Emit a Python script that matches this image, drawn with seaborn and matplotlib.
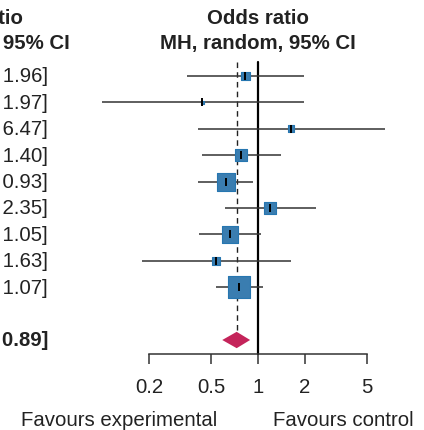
import numpy as np
import pandas as pd
import matplotlib
matplotlib.use("Agg")
import matplotlib.pyplot as plt
import seaborn as sns

# ---- data ----
or_est = [0.83, 0.44, 1.63, 0.78, 0.62, 1.19, 0.66, 0.54, 0.76]
ci_low = [0.35, 0.10, 0.41, 0.44, 0.41, 0.61, 0.42, 0.18, 0.54]
ci_high = [1.96, 1.97, 6.47, 1.40, 0.93, 2.35, 1.05, 1.63, 1.07]
weights = [4.8, 0.9, 2.9, 9.9, 21.2, 8.5, 17.0, 3.8, 31.1]
overall_est = 0.73
overall_low = 0.59
overall_high = 0.89
tick_values = [0.2, 0.5, 1, 2, 5]
tick_labels = ["0.2", "0.5", "1", "2", "5"]
header_lines = ["Odds ratio", "MH, random, 95% CI"]
label_left = "Favours experimental"
label_right = "Favours control"

rows = list(range(len(or_est)))
overall_row = len(or_est) + 1
df = pd.DataFrame({"row": rows, "or": or_est, "lo": ci_low, "hi": ci_high, "w": weights})

sns.set_theme(style="white")
plt.rcParams["font.family"] = ["Liberation Sans", "DejaVu Sans"]

W, H = 424, 431
fig = plt.figure(figsize=(W / 100, H / 100), dpi=100)
ax = fig.add_axes([0, 0, 1, 1])
ax.set_facecolor("none")

X0, DEC = 258.0, 156.0   # pixel of OR=1, pixels per decade
Y0, DY = 77.0, 26.4      # pixel of first row, pixels per row


def px(xp, yp):
    return 10 ** ((xp - X0) / DEC), (yp - Y0) / DY


ax.set_xscale("log")
ax.set_xlim(px(0, 0)[0], px(W, 0)[0])
ax.set_ylim(px(0, H)[1], px(0, 0)[1])

FS = 14.7
line_top = px(0, 63)[1]
axis_y = px(0, 355)[1]

# reference lines
ax.plot([1, 1], [line_top, axis_y], color="black", lw=1.6, zorder=1)
ax.plot([overall_est, overall_est], [line_top, overall_row - 0.3], color="#222222",
        lw=1.0, ls=(0, (4, 3)), zorder=1)

# CI lines
ax.hlines(df["row"], df["lo"], df["hi"], color="#333333", lw=1.1, zorder=2)

# squares sized by weight (area proportional)
side_max_pt = 22 * 0.72
sns.scatterplot(data=df, x="or", y="row", size="w", sizes=(0, side_max_pt ** 2),
                size_norm=(0, max(weights)), marker="s", color="#3a7db0",
                edgecolor="#2676b0", linewidth=0.8, legend=False, ax=ax, zorder=3)
# centre ticks
ax.scatter(df["or"], df["row"], marker="|", s=30, color="black", linewidths=1.4, zorder=4)

# overall diamond
h = 0.31
ax.fill([overall_low, overall_est, overall_high, overall_est],
        [overall_row, overall_row - h, overall_row, overall_row + h],
        color="#c4245a", lw=0, zorder=3)

# x axis
for s in ["top", "left", "right"]:
    ax.spines[s].set_visible(False)
ax.spines["bottom"].set_position(("data", axis_y))
ax.spines["bottom"].set_bounds(tick_values[0], tick_values[-1])
ax.spines["bottom"].set_color("#333333")
ax.spines["bottom"].set_linewidth(1.1)
ax.set_xticks(tick_values)
ax.set_xticklabels(tick_labels)
ax.xaxis.set_minor_locator(matplotlib.ticker.NullLocator())
ax.tick_params(axis="x", which="major", bottom=True, direction="out", length=7.5,
               width=1.1, color="#333333", labelsize=FS, pad=9, labelcolor="#222222")
ax.set_yticks([])
ax.set_xlabel("")
ax.set_ylabel("")
ax.grid(False)

# headers
for cx in [-28, 258]:
    for yy, t in zip([18, 43], header_lines):
        x, y = px(cx, yy)
        ax.text(x, y, t, ha="center", va="center", fontsize=FS, fontweight="bold",
                color="#222222")

# left CI text
for r, o, lo, hi in zip(rows, or_est, ci_low, ci_high):
    x, _ = px(48, 0)
    ax.text(x, r, f"{o:.2f} [{lo:.2f}, {hi:.2f}]", ha="right", va="center",
            fontsize=FS, color="#222222")
x, _ = px(48, 0)
ax.text(x, overall_row, f"{overall_est:.2f} [{overall_low:.2f}, {overall_high:.2f}]",
        ha="right", va="center", fontsize=FS, fontweight="bold", color="#222222")

# favours labels
x, y = px(217, 420)
ax.text(x, y, label_left, ha="right", va="center", fontsize=FS, color="#222222")
x, y = px(273, 420)
ax.text(x, y, label_right, ha="left", va="center", fontsize=FS, color="#222222")

fig.savefig("out.png", dpi=100)
